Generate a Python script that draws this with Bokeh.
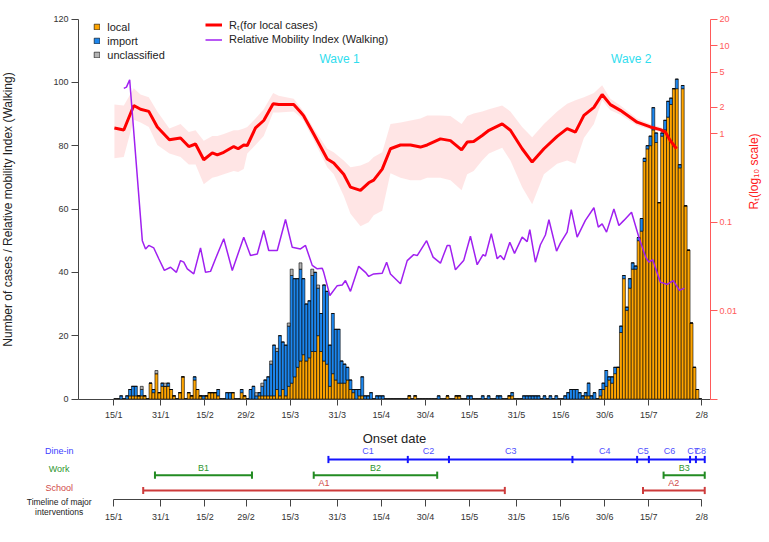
import math
from bokeh.plotting import figure
from bokeh.models import (Range1d, LinearAxis, LogAxis, LogScale, FixedTicker, ColumnDataSource,
                          Legend, LegendItem)
from bokeh.embed import file_html
from bokeh.resources import INLINE
from bokeh.core.properties import value

FONT = "Liberation Sans"

# ---------------- data (day index = days since 15 Jan 2020) ----------------
tick_days = [0, 16, 31, 45, 60, 76, 91, 106, 121, 137, 152, 167, 182, 200]
tick_labels = ["15/1", "31/1", "15/2", "29/2", "15/3", "31/3", "15/4", "30/4",
               "15/5", "31/5", "15/6", "30/6", "15/7", "2/8"]

local_cases = [
    0, 0, 0, 0, 0, 1, 1, 1, 1, 1,
    1, 0, 5, 2, 8, 2, 4, 4, 4, 3,
    1, 0, 2, 7, 0, 2, 1, 6, 3, 1,
    0, 1, 2, 2, 2, 1, 0, 0, 0, 0,
    2, 0, 0, 2, 1, 0, 0, 0, 0, 1,
    1, 1, 1, 1, 1, 3, 1, 3, 1, 4,
    5, 7, 10, 12, 14, 12, 13, 15, 15, 20,
    15, 12, 11, 4, 8, 6, 5, 5, 5, 6,
    3, 2, 0, 1, 1, 0, 0, 0, 0, 0,
    0, 0, 0, 0, 0, 0, 0, 0, 0, 0,
    1, 0, 1, 0, 0, 0, 0, 0, 0, 0,
    0, 0, 0, 1, 0, 0, 1, 1, 0, 0,
    0, 0, 0, 0, 0, 0, 0, 0, 0, 0,
    0, 0, 0, 0, 1, 1, 0, 0, 0, 0,
    0, 0, 0, 0, 0, 0, 0, 0, 0, 0,
    0, 0, 0, 0, 0, 0, 0, 0, 0, 0,
    1, 1, 0, 0, 0, 1, 3, 4, 6, 5,
    8, 10, 21, 38, 28, 35, 41, 41, 50, 53,
    75, 79, 80, 85, 81, 62, 83, 85, 89, 93,
    98, 98, 73, 98, 61, 47, 24, 10, 3, 0,
]
import_cases = [
    0, 0, 1, 0, 1, 2, 3, 3, 0, 2,
    0, 0, 0, 1, 0, 0, 1, 0, 1, 0,
    0, 0, 0, 0, 0, 0, 0, 1, 0, 0,
    1, 0, 0, 0, 0, 2, 0, 0, 2, 2,
    0, 0, 0, 1, 0, 0, 3, 4, 1, 1,
    3, 5, 6, 10, 16, 12, 19, 15, 16, 19,
    34, 31, 28, 29, 24, 18, 18, 24, 25, 15,
    12, 24, 23, 13, 19, 16, 17, 7, 6, 4,
    3, 1, 3, 2, 6, 1, 1, 2, 0, 1,
    1, 1, 0, 0, 0, 0, 0, 0, 0, 0,
    0, 0, 0, 0, 0, 0, 0, 0, 0, 0,
    1, 0, 0, 0, 0, 0, 0, 0, 0, 0,
    1, 1, 0, 0, 0, 1, 0, 1, 0, 0,
    1, 1, 0, 0, 0, 1, 0, 0, 0, 1,
    1, 1, 1, 1, 1, 0, 1, 0, 1, 0,
    1, 0, 0, 1, 2, 3, 3, 3, 2, 1,
    1, 4, 1, 2, 0, 2, 2, 5, 1, 2,
    2, 0, 2, 1, 1, 3, 2, 1, 1, 4,
    1, 1, 3, 7, 3, 0, 1, 3, 5, 2,
    0, 3, 1, 1, 0, 0, 0, 0, 0, 0,
]
unclassified_cases = [0] * 200
for d, n in [(9, 1), (14, 1), (17, 1), (48, 1), (50, 1), (53, 1), (55, 1),
             (59, 1), (60, 2), (63, 2), (67, 2), (69, 1)]:
    unclassified_cases[d] = n

# Rt (log scale) with credible interval
rt_day = [0.2, 3.4, 6.8, 9.1, 11.9, 14.8, 18.9, 22.7, 25.5, 27.8, 30.6, 33.5, 35.2, 37.4,
          40.8, 42.3, 44.2, 45.4, 48.2, 51.0, 54.2, 56.1, 61.2, 63.5, 64.6, 68.0, 72.6,
          74.8, 78.2, 80.5, 83.9, 86.7, 88.4, 91.3, 94.1, 97.5, 100.9, 104.3, 106.6,
          111.1, 114.5, 118.3, 120.2, 122.4, 125.3, 127.6, 132.1, 134.9, 138.9, 142.3,
          146.3, 150.8, 154.2, 157.0, 159.9, 163.3, 166.1, 168.9, 172.3, 178.0, 182.5,
          185.9, 187.6, 189.3, 191.4]
rt_mean = [1.17, 1.11, 2.1, 1.9, 1.8, 1.2, 0.86, 0.9, 0.72, 0.77, 0.51, 0.61, 0.58, 0.62,
           0.72, 0.68, 0.75, 0.74, 1.17, 1.42, 2.2, 2.15, 2.16, 1.77, 1.6, 1.0, 0.52,
           0.47, 0.35, 0.25, 0.23, 0.28, 0.30, 0.40, 0.68, 0.75, 0.75, 0.71, 0.75,
           0.88, 0.84, 0.66, 0.81, 0.82, 0.96, 1.1, 1.3, 1.1, 0.68, 0.48,
           0.68, 0.94, 1.15, 1.05, 1.62, 2.0, 2.8, 2.15, 1.85, 1.36, 1.2,
           1.12, 1.05, 0.84, 0.68]
rt_lower = [0.53, 0.55, 1.45, 1.35, 1.2, 0.75, 0.6, 0.55, 0.45, 0.45, 0.27, 0.32, 0.33, 0.35,
            0.38, 0.37, 0.4, 0.6, 0.75, 0.95, 1.75, 1.75, 1.8, 1.55, 1.4, 0.85, 0.42,
            0.35, 0.2, 0.125, 0.09, 0.1, 0.12, 0.135, 0.36, 0.32, 0.3, 0.3, 0.32,
            0.32, 0.3, 0.23, 0.35, 0.38, 0.5, 0.6, 0.7, 0.5, 0.25, 0.16,
            0.35, 0.46, 0.5, 0.46, 0.9, 1.3, 2.4, 1.85, 1.65, 1.25, 1.12,
            1.05, 0.98, 0.78, 0.6]
rt_upper = [2.16, 2.1, 3.3, 2.8, 2.6, 1.8, 1.15, 1.3, 1.05, 1.1, 0.84, 0.95, 0.95, 1.0,
            1.1, 1.1, 1.15, 1.2, 1.5, 1.9, 2.9, 2.7, 2.5, 2.0, 1.8, 1.15, 0.68,
            0.62, 0.5, 0.42, 0.44, 0.48, 0.55, 0.62, 1.3, 1.35, 1.42, 1.5, 1.62,
            1.62, 1.6, 1.3, 1.6, 1.7, 1.8, 1.9, 2.1, 1.8, 1.2, 0.92,
            1.3, 1.8, 2.2, 2.4, 2.6, 2.9, 3.55, 2.5, 2.1, 1.5, 1.3,
            1.2, 1.13, 0.92, 0.76]

# Relative mobility index (walking)
mob_day = [3.4, 4.3, 5.4, 9.7, 10.8, 11.9, 13.6, 15.3, 17.2, 19.3, 21.3, 22.7, 23.8, 25.0,
           27.2, 29.5, 31.2, 32.9, 34.6, 37.4, 40.3, 44.2, 46.5, 48.8, 51.0, 52.7, 55.6,
           58.4, 60.7, 63.5, 65.2, 67.5, 69.2, 70.9, 71.4, 73.5, 76.0, 77.7, 78.8, 80.5,
           83.3, 85.6, 86.7, 88.4, 91.3, 92.8, 94.1, 97.5, 99.8, 102.0, 103.2, 106.4,
           108.6, 111.1, 113.4, 114.3, 116.2, 119.0, 121.3, 123.6, 125.6, 126.4, 128.4,
           130.4, 131.5, 132.7, 134.7, 136.3, 138.9, 140.6, 141.5, 143.4, 145.1, 146.8,
           148.0, 150.6, 151.9, 154.2, 155.6, 157.6, 160.4, 163.3, 164.8, 166.1, 167.6,
           170.1, 171.8, 173.5, 176.1, 178.6, 180.9, 182.0, 183.3, 185.9, 188.2, 190.3,
           192.4, 194.1]
mob_value = [98.1, 98.5, 100.8, 50.0, 47.4, 48.5, 47.7, 44.3, 40.6, 41.6, 40.0, 43.7, 43.2, 41.1,
             39.5, 47.7, 40.0, 40.3, 44.3, 50.6, 40.6, 51.1, 45.3, 45.8, 53.2, 46.9, 46.9,
             56.7, 47.9, 47.4, 48.5, 42.2, 41.1, 41.3, 40.0, 32.7, 35.8, 36.0, 37.4, 34.0,
             41.9, 40.0, 38.7, 39.5, 39.7, 43.2, 39.5, 36.4, 43.7, 45.6, 45.3, 50.0,
             44.8, 42.9, 48.5, 48.5, 40.8, 43.7, 51.4, 42.4, 45.6, 45.1, 52.2,
             44.3, 45.3, 44.0, 49.5, 46.0, 51.1, 49.7, 53.5, 43.2, 48.7, 51.8,
             56.6, 46.7, 49.2, 52.7, 59.8, 51.1, 56.4, 60.4, 54.3, 55.3, 52.7,
             60.0, 54.8, 56.4, 59.0, 51.1, 44.8, 43.2, 44.0, 36.9, 36.2, 37.4,
             34.3, 35.0]

# Interventions timeline
dine_in_breaks = [73, 100, 114, 156, 178, 182, 196, 198, 201]
dine_in_labels = ["C1", "C2", "C3", "C4", "C5", "C6", "C7", "C8"]
work_start = [14, 68, 187]
work_end = [47, 110, 201]
work_labels = ["B1", "B2", "B3"]
school_start = [10, 180]
school_end = [133, 201]
school_labels = ["A1", "A2"]

rt_ticks = [0.001, 0.01, 0.1, 1, 2, 5, 10, 20]
rt_tick_labels = ["", "0.01", "0.1", "1", "2", "5", "10", "20"]
left_ticks = [0, 20, 40, 60, 80, 100, 120]

# ---------------- layout constants (page pixels; Bokeh page has no body margin) ----------------
W, H = 769, 542
DAY0_PX = 113.3                          # page x of 15/1
PX_PER_DAY = 2.94
AX_LEFT_PX, AX_RIGHT_PX = 78.0, 710.0    # page x of left / right value axes
CASE0_PX = 398.5                         # page y of 0 cases
PX_PER_CASE = 380.0 / 120.0
PX_PER_DECADE = 380.0 / math.log10(20 / 0.001)
TL0_PX = 499.0                           # page y of the timeline axis


def px_to_day(x):
    return (x - DAY0_PX) / PX_PER_DAY


def py_to_case(y):
    return (CASE0_PX - y) / PX_PER_CASE


def py_to_rt(y):
    return 10 ** (math.log10(0.001) + (CASE0_PX - y) / PX_PER_DECADE)


p = figure(width=W, height=H,
           x_range=Range1d(px_to_day(0), px_to_day(W)),
           y_range=Range1d(py_to_case(H), py_to_case(0)),
           x_axis_location=None, y_axis_location=None,
           output_backend="svg", toolbar_location=None, min_border=0)
p.extra_y_ranges = {"rt": Range1d(py_to_rt(H), py_to_rt(0)),
                    "tl": Range1d(TL0_PX - H, TL0_PX)}
p.extra_y_scales = {"rt": LogScale()}
p.grid.visible = False
p.outline_line_color = None

src = ColumnDataSource(dict(x=[d + 0.5 for d in range(len(local_cases))],
                            local=local_cases, imp=import_cases, uncl=unclassified_cases))

p.varea(x=rt_day, y1=rt_lower, y2=rt_upper, y_range_name="rt",
        fill_color="#FF0000", fill_alpha=0.10)

bars = p.vbar_stack(["local", "imp", "uncl"], x="x", width=1, source=src,
                    fill_color=["#FFA500", "#1C86EE", "#B4B4B4"],
                    line_color="black", line_width=0.6)

rt_line = p.line(rt_day, rt_mean, y_range_name="rt", line_color="#FF0000", line_width=3)
mob_line = p.line(mob_day, mob_value, line_color="#A020F0", line_width=1.5)

p.text(x=[76.8, 176.0], y=[107.5, 107.5], text=["Wave 1", "Wave 2"],
       text_color="#30DDEE", text_font=value(FONT), text_font_size="12px",
       text_align="center", text_baseline="middle")


def style_axis(ax, color="#444444", label_color="#333333"):
    ax.major_label_text_font = FONT
    ax.major_label_text_font_size = "9px"
    ax.major_label_text_color = label_color
    ax.major_tick_in = 0
    ax.minor_tick_line_color = None
    ax.axis_line_color = color
    ax.major_tick_line_color = color
    ax.axis_label_text_font = FONT
    ax.axis_label_text_font_style = "normal"


day_lo, day_hi = px_to_day(AX_LEFT_PX), px_to_day(AX_RIGHT_PX)

# onset-date axis (at 0 cases)
xa = LinearAxis(fixed_location=0, bounds=(day_lo, day_hi),
                ticker=FixedTicker(ticks=tick_days),
                major_label_overrides=dict(zip(tick_days, tick_labels)))
style_axis(xa)
xa.major_tick_out = 6
xa.major_label_standoff = 5
xa.axis_label = "Onset date"
xa.axis_label_text_font_size = "13px"
xa.axis_label_text_color = "#222222"
xa.axis_label_standoff = 7
p.add_layout(xa, "below")

# left axis
ya = LinearAxis(fixed_location=day_lo, bounds=(0, 120), ticker=FixedTicker(ticks=left_ticks))
style_axis(ya)
ya.major_tick_out = 7
ya.major_label_standoff = 3
ya.axis_label = "Number of cases / Relative mobility Index (Walking)"
ya.axis_label_text_font_size = "12px"
ya.axis_label_text_color = "#222222"
ya.axis_label_standoff = 35
p.add_layout(ya, "left")

# right Rt axis (log)
RT_COL = "#FF5A5A"
ra = LogAxis(y_range_name="rt", fixed_location=day_hi, bounds=(rt_ticks[0], rt_ticks[-1]),
             ticker=FixedTicker(ticks=rt_ticks),
             major_label_overrides=dict(zip(rt_ticks, rt_tick_labels)))
style_axis(ra, RT_COL, RT_COL)
ra.major_tick_out = 7
ra.major_label_standoff = 2
ra.axis_label = "Rₜ(log₁₀ scale)"
ra.axis_label_text_font_size = "12px"
ra.axis_label_text_color = "#FF2020"
ra.axis_label_standoff = 14
try:
    ra.axis_label_orientation = math.pi / 2
except Exception:
    pass
p.add_layout(ra, "right")

# timeline axis
ta = LinearAxis(y_range_name="tl", fixed_location=0, bounds=(tick_days[0], tick_days[-1]),
                ticker=FixedTicker(ticks=tick_days),
                major_label_overrides=dict(zip(tick_days, tick_labels)))
style_axis(ta)
ta.major_tick_out = 7
ta.major_label_standoff = 5
p.add_layout(ta, "below")

# legends (location = bottom-left corner, px from frame bottom-left)
leg_common = dict(label_text_font=FONT, label_text_font_size="11px", label_text_color="#222222",
                  label_height=14, spacing=0, padding=0, margin=0, border_line_color=None,
                  background_fill_alpha=0, label_standoff=7)
leg1 = Legend(items=[LegendItem(label="local", renderers=[bars[0]]),
                     LegendItem(label="import", renderers=[bars[1]]),
                     LegendItem(label="unclassified", renderers=[bars[2]])],
              location=(93.3, H - (19.7 + 42)),
              glyph_width=7, glyph_height=7, **leg_common)
leg2 = Legend(items=[LegendItem(label="Rₜ(for local cases)", renderers=[rt_line]),
                     LegendItem(label="Relative Mobility Index (Walking)", renderers=[mob_line])],
              location=(205, H - (18 + 28)),
              glyph_width=17, glyph_height=7, **leg_common)
p.add_layout(leg1)
p.add_layout(leg2)

# interventions rows (tl units = px above the timeline axis)
BLUE, GREEN, RED = "#1414FF", "#228B22", "#CD3B3B"
CAP = 3.6


def draw_row(starts, ends, labels, ycen, ylab, line_col, text_col):
    n = len(starts)
    p.segment(x0=starts, y0=[ycen] * n, x1=ends, y1=[ycen] * n, y_range_name="tl",
              line_color=line_col, line_width=2)
    caps = sorted(set(starts + ends))
    p.segment(x0=caps, y0=[ycen - CAP] * len(caps), x1=caps, y1=[ycen + CAP] * len(caps),
              y_range_name="tl", line_color=line_col, line_width=2)
    mids = [(a + b) / 2 for a, b in zip(starts, ends)]
    p.text(x=mids, y=[ylab] * n, text=labels, y_range_name="tl", text_color=text_col,
           text_font=value(FONT), text_font_size="9px", text_align="center",
           text_baseline="middle")


draw_row(dine_in_breaks[:-1], dine_in_breaks[1:], dine_in_labels, 40, 48.5, BLUE, "#5050FF")
draw_row(work_start, work_end, work_labels, 24.3, 32, GREEN, "#2E962E")
draw_row(school_start, school_end, school_labels, 9, 16.5, RED, "#D04848")

label_x = px_to_day(58.7)
p.text(x=[label_x] * 3, y=[49, 31, 12], text=["Dine-in", "Work", "School"], y_range_name="tl",
       text_color=["#4040FF", "#2E962E", "#D04848"], text_font=value(FONT),
       text_font_size="9px", text_align="center", text_baseline="middle")
p.text(x=[label_x] * 2, y=[-2.5, -12.5], text=["Timeline of major", "interventions"],
       y_range_name="tl", text_color="#222222", text_font=value(FONT),
       text_font_size="8.5px", text_align="center", text_baseline="middle")

open("out.html", "w").write(file_html(p, INLINE))
